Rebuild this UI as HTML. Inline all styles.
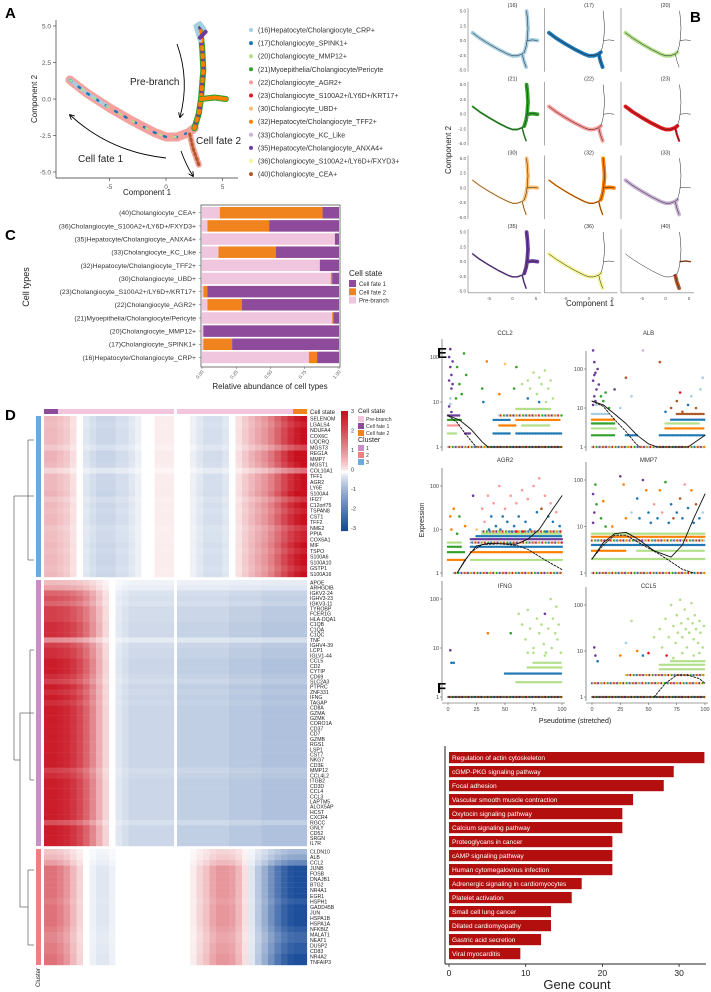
<!DOCTYPE html>
<html><head><meta charset="utf-8"><style>
html,body{margin:0;padding:0;background:#fff;}
svg{display:block;font-family:"Liberation Sans",Arial,sans-serif;}
</style></head><body>
<svg id="fig" width="711" height="992" viewBox="0 0 711 992" xmlns="http://www.w3.org/2000/svg"></svg>
<script>
// ---------- DATA ----------
const clusterNames=["(16)Hepatocyte/Cholangiocyte_CRP+","(17)Cholangiocyte_SPINK1+","(20)Cholangiocyte_MMP12+","(21)Myoepithelia/Cholangiocyte/Pericyte","(22)Cholangiocyte_AGR2+","(23)Cholangiocyte_S100A2+/LY6D+/KRT17+","(30)Cholangiocyte_UBD+","(32)Hepatocyte/Cholangiocyte_TFF2+","(33)Cholangiocyte_KC_Like","(35)Hepatocyte/Cholangiocyte_ANXA4+","(36)Cholangiocyte_S100A2+/LY6D+/FXYD3+","(40)Cholangiocyte_CEA+"];
const clusterIds=["(16)","(17)","(20)","(21)","(22)","(23)","(30)","(32)","(33)","(35)","(36)","(40)"];
const palette=["#a6cee3","#1f78b4","#b2df8a","#33a02c","#fb9a99","#e31a1c","#fdbf6f","#ff7f00","#cab2d6","#6a3d9a","#f5f59a","#b15928"];
const segLeft=[[-8.5,1.3],[-7,0.4],[-5,-0.6],[-3,-1.5],[-1,-2.3],[0,-2.6],[1,-2.6],[2,-2.3],[2.5,-2]];
const segUp=[[2.5,-2],[2.9,-1],[3.1,0],[3.3,2],[3.2,3.5],[3,5]];
const segRight=[[3.1,0],[4.3,0.1],[5.3,0]];
const segDown=[[2.1,-2.4],[2.4,-3.4],[2.9,-4.5]];
const facetSegs=[[1,1,1,1],[1,0,0,1],[1,0,0,0],[0.4,1,1,0.3],[1,0,0,1],[1,0,0,0.5],[0.3,1,1,0.3],[0.3,1,1,0.3],[1,0,0,1],[0.3,1,1,0.3],[1,0,0,1],[0,0,0.3,1]];
const cTypes=["(40)Cholangiocyte_CEA+","(36)Cholangiocyte_S100A2+/LY6D+/FXYD3+","(35)Hepatocyte/Cholangiocyte_ANXA4+","(33)Cholangiocyte_KC_Like","(32)Hepatocyte/Cholangiocyte_TFF2+","(30)Cholangiocyte_UBD+","(23)Cholangiocyte_S100A2+/LY6D+/KRT17+","(22)Cholangiocyte_AGR2+","(21)Myoepithelia/Cholangiocyte/Pericyte","(20)Cholangiocyte_MMP12+","(17)Cholangiocyte_SPINK1+","(16)Hepatocyte/Cholangiocyte_CRP+"];
const cPre=[0.13,0.04,0.97,0.12,0.86,0.94,0.01,0.04,0.95,0.01,0.01,0.78];
const cFate2=[0.75,0.45,0.0,0.42,0.0,0.01,0.03,0.25,0.01,0.0,0.21,0.06];
const cFate1=[0.12,0.51,0.03,0.46,0.14,0.05,0.96,0.71,0.04,0.99,0.78,0.16];
const cTicks=["0.00","0.25","0.50","0.75","1.00"];
const genes3=["SELENOM","LGALS4","NDUFA4","COX6C","UQCRQ","MGST3","REG1A","MMP7","MGST1","COL10A1","TFF1","AGR2","LY6E","S100A4","IFI27","C12orf75","TSPAN8","CST1","TFF2","NME2","PPIA","COX6A1","MIF","TSPO","S100A6","S100A10","GSTP1","S100A16"];
const genes1=["APOE","ARHGDIB","IGKV2-24","IGHV3-23","IGKV3-11","TYROBP","FCER1G","HLA-DQA1","C1QB","C1QA","C1QC","TNF","IGHV4-39","LCP1","IGLV1-44","CCL5","CD2","CYTIP","CD69","SLC2A3","PTPRC","ZNF331","IFNG","TAGAP","CD8A","GZMA","GZMK","CORO1A","CD37","CD7","GZMB","RGS1","LSP1","CST7","NKG7","CD3E","MMP12","CCL4L2","ITGB2","CD3D","CCL4","CCL3","LAPTM5","ALOX5AP","HCST","CXCR4","RGCC","GNLY","CD52","SRGN","IL7R"];
const genes2=["CLDN10","ALB","CCL2","JUNB","FOSB","DNAJB1","BTG2","NR4A1","EGR1","HSPH1","GADD45B","JUN","HSPA1B","HSPA1A","NFKBIZ","MALAT1","NEAT1","DUSP2","CD83","NR4A2","TNFAIP3"];
const prof3L=[0.6,0.6,0.5,0.4,0.2,0,-0.2,-0.3,-0.4,-0.4,-0.4,-0.3,-0.3,-0.2,-0.1,0,0,0.1,0.1,0.1];
const prof3R=[0,0,-0.1,-0.2,-0.3,-0.3,-0.3,-0.2,0,0.2,0.4,0.6,0.8,1,1.3,1.7,2.1,2.5,2.8,3];
const prof1L=[2.8,2.8,2.7,2.6,2.4,2.1,1.7,1.2,0.7,0.3,0,-0.2,-0.3,-0.4,-0.4,-0.4,-0.4,-0.4,-0.4,-0.4];
const prof1R=[-0.5,-0.5,-0.5,-0.5,-0.5,-0.5,-0.5,-0.5,-0.6,-0.6,-0.6,-0.6,-0.6,-0.7,-0.7,-0.7,-0.7,-0.7,-0.7,-0.7];
const prof2L=[1.5,1.5,1.3,1,0.6,0.3,0,-0.1,-0.2,-0.2,-0.1,0,0,0,0,0,0,0,0,0];
const prof2R=[0,0,0.1,0.3,0.5,0.8,1,1,0.9,0.6,0.2,-0.2,-0.6,-1,-1.5,-2,-2.4,-2.7,-2.8,-2.8];
const scale3=[1,0.9,1,1,1,0.7,1.1,1.1,1,0.5,1,1,1,1.1,0.8,1,0.9,1,1,0.8,0.9,0.9,1,0.9,1,1,0.9,1];
const scale1=[0.2,0.3,0.6,0.7,0.6,0.8,0.8,0.8,0.9,0.9,0.9,0.4,0.8,0.9,0.9,1,1,1,0.9,0.8,1,0.9,1,0.9,1,1,1,1,1,1,1,1,1,1,1,1,0.8,0.9,1,1,1,1,1,1,1,1,0.7,1,1,1,1];
const scale2=[0.3,0.4,0.6,1,1,1,1,1,1,0.9,1,1,1,1,0.9,0.8,0.8,0.9,0.9,1,1];
const cbTicks=["3","2","1","0","-1","-2","-3"];
const eGenes=["CCL2","ALB","AGR2","MMP7","IFNG","CCL5"];
const eTicksX=["0","25","50","75","100"];
const eBands=[
 [[1,0,100,-1],[2,0,8,2],[2,15,20,9],[2,40,55,1],[2,60,100,1],[3,0,10,4],[3,45,60,7],[3,65,90,2],[4,0,12,3],[4,40,55,1],[4,60,98,7],[5,0,10,9],[5,45,100,-1],[7,60,90,2]],
 [[1,0,100,-1],[2,0,20,3],[2,30,40,1],[2,60,100,1],[3,0,22,2],[3,65,100,7],[4,0,20,3],[4,65,95,2],[5,0,20,7],[5,70,100,1],[7,0,15,0],[7,75,100,11]],
 [[1,5,100,-1],[2,0,15,7],[2,20,100,2],[3,0,15,3],[3,20,100,7],[4,0,12,3],[4,20,100,1],[5,0,12,2],[5,20,100,-1],[6,20,100,9],[7,25,100,1],[8,30,100,2],[9,30,100,-1]],
 [[1,0,100,-1],[2,0,100,2],[3,0,30,7],[3,40,100,2],[4,0,100,1],[5,0,100,-1],[6,0,100,7],[7,0,100,2]],
 [[1,0,100,-1],[2,60,100,2],[3,50,100,1],[4,70,100,2],[5,75,100,2]],
 [[1,0,100,-1],[2,0,100,-1],[3,30,100,-1],[4,60,100,2],[5,60,100,2],[6,70,100,2]]
];
const ePts=[
 [[1,100,9],[2,150,9],[2,60,9],[3,40,9],[1,30,9],[3,20,9],[2,12,0],[4,80,9],[1,8,9],[3,6,9],[4,25,9],[2,9,0],[8,60,3],[10,25,3],[12,15,3],[14,120,3],[16,40,3],[7,12,3],[30,20,3],[34,80,7],[31,10,1],[45,15,7],[50,70,6],[58,20,3],[60,60,3],[65,25,2],[70,30,2],[72,20,2],[75,45,2],[78,15,2],[80,35,2],[82,25,2],[85,50,2],[88,20,2],[90,30,2],[92,12,2],[70,12,1],[80,10,1],[86,10,2]],
 [[1,300,9],[2,150,9],[3,80,9],[1,50,9],[4,30,9],[2,20,9],[5,100,9],[3,15,9],[6,40,9],[1,12,9],[2,70,9],[4,12,0],[8,20,3],[10,15,3],[12,25,3],[15,10,3],[20,30,9],[25,10,0],[30,60,11],[35,20,0],[45,300,8],[60,150,11],[65,8,1],[70,10,11],[75,15,11],[78,25,5],[80,8,11],[85,12,1],[88,20,0],[92,10,11],[96,30,0],[98,60,0]],
 [[2,20,7],[3,10,7],[5,30,7],[8,8,3],[10,20,3],[15,12,7],[22,60,9],[25,10,6],[30,30,4],[32,15,4],[35,60,4],[38,20,1],[40,40,4],[42,12,1],[45,100,4],[48,20,1],[50,30,4],[52,15,1],[55,60,4],[58,12,1],[60,40,4],[62,20,1],[65,80,4],[68,15,1],[70,50,4],[72,10,1],[75,100,4],[78,25,1],[80,150,4],[82,30,11],[85,60,4],[88,20,1],[90,40,4],[92,15,1],[95,25,4],[98,12,1],[60,9,5],[66,9,5],[36,10,1],[46,10,1],[56,9,1],[86,9,1]],
 [[1,50,9],[2,20,9],[3,80,3],[1,12,9],[4,30,3],[8,15,3],[10,35,7],[12,10,3],[18,10,7],[25,120,9],[28,80,7],[30,15,7],[35,20,0],[40,40,1],[42,15,1],[45,100,9],[48,60,7],[50,20,1],[52,12,1],[55,30,4],[58,15,1],[60,60,7],[62,20,4],[65,90,3],[68,12,1],[70,30,1],[72,15,11],[75,20,1],[78,40,11],[80,15,1],[82,80,4],[85,25,1],[88,60,7],[90,12,1],[92,30,11],[95,15,1],[98,20,0]],
 [[2,9,9],[3,5,1],[5,5,1],[35,20,7],[55,20,3],[62,50,2],[65,30,2],[68,15,2],[70,60,2],[72,25,2],[75,10,2],[78,40,2],[80,20,2],[82,30,2],[84,12,2],[85,50,9],[86,8,2],[88,25,2],[90,100,2],[91,10,2],[92,40,2],[94,20,2],[95,70,2],[96,15,2],[97,30,2],[99,8,2],[75,8,2],[70,8,2],[85,7,2]],
 [[2,12,9],[3,8,9],[5,6,1],[25,8,7],[30,15,0],[35,45,2],[40,10,7],[45,8,1],[50,9,5],[55,20,2],[60,30,2],[62,12,2],[65,50,2],[68,20,2],[70,100,2],[72,35,2],[74,15,2],[75,60,2],[76,25,2],[78,130,2],[79,40,2],[80,20,2],[82,80,2],[83,30,2],[84,12,2],[85,50,2],[86,25,2],[88,110,2],[89,40,2],[90,18,2],[91,60,2],[92,30,2],[94,15,2],[95,45,2],[96,25,2],[98,12,2],[99,35,2],[66,8,5],[72,7,2],[80,9,2],[90,8,2],[95,9,2]]
];
const eSolid=[
 [[0,5],[10,4],[20,2.5],[30,1.3],[35,1],[100,1]],
 [[0,15],[10,12],[20,7],[30,4],[40,2],[50,1.2],[58,1],[85,1],[100,2]],
 [[8,1],[15,2],[25,4.2],[35,4.8],[50,4.7],[60,4.6],[70,6],[80,10],[90,25],[100,60]],
 [[0,2],[10,4.5],[20,7],[30,7.5],[40,5.5],[55,3],[70,2.2],[80,4],[90,15],[100,50]],
 [[0,1],[100,1]],
 [[0,1],[100,1]]
];
const eDash=[
 [[0,5],[8,3.5],[15,2],[22,1.2],[25,1]],
 [[0,15],[10,11],[20,5],[30,2.5],[38,1.3],[42,1]],
 [[8,1],[20,3],[30,4.5],[45,4.7],[60,4.3],[70,3.5],[85,2],[100,1.2]],
 [[0,2],[10,4],[20,6.5],[30,6.5],[45,4],[60,2.5],[80,1.2],[90,1]],
 [[0,1],[100,1]],
 [[55,1],[65,2],[75,3],[85,3],[95,2.5],[100,2]]
];
const fTerms=["Regulation of actin cytoskeleton","cGMP-PKG signaling pathway","Focal adhesion","Vascular smooth muscle contraction","Oxytocin signaling pathway","Calcium signaling pathway","Proteoglycans in cancer","cAMP signaling pathway","Human cytomegalovirus infection","Adrenergic signaling in cardiomyocytes","Platelet activation","Small cell lung cancer","Dilated cardiomyopathy","Gastric acid secretion","Viral myocarditis"];
const fCounts=[33.3,29.3,28,24,22.6,22.6,21.3,21.3,21.3,17.3,16,13.3,13.3,12,9.3];
const fTicks=[0,10,20,30];

// ---------- HELPERS ----------
const NS="http://www.w3.org/2000/svg";
const fig=document.getElementById('fig');
function mk(tag,parent){const e=document.createElementNS(NS,tag);(parent||fig).appendChild(e);return e;}
function txt(parent,x,y,s,size,anchor,fill,weight){const t=mk('text',parent);t.setAttribute('x',x);t.setAttribute('y',y);t.setAttribute('font-size',size);t.setAttribute('text-anchor',anchor||'start');t.setAttribute('fill',fill||'#333');if(weight)t.setAttribute('font-weight',weight);t.textContent=s;return t;}
function line(parent,x1,y1,x2,y2,col,w){const l=mk('line',parent);l.setAttribute('x1',x1);l.setAttribute('y1',y1);l.setAttribute('x2',x2);l.setAttribute('y2',y2);l.setAttribute('stroke',col||'#333');l.setAttribute('stroke-width',w||0.6);return l;}
function poly(parent,pts,sx,sy,col,w,dash){const p=mk('polyline',parent);p.setAttribute('points',pts.map(q=>sx(q[0]).toFixed(1)+','+sy(q[1]).toFixed(1)).join(' '));p.setAttribute('fill','none');p.setAttribute('stroke',col);p.setAttribute('stroke-width',w);p.setAttribute('stroke-linecap','round');p.setAttribute('stroke-linejoin','round');if(dash)p.setAttribute('stroke-dasharray',dash);return p;}
function rect(parent,x,y,w,h,fill){const r=mk('rect',parent);r.setAttribute('x',x);r.setAttribute('y',y);r.setAttribute('width',Math.max(0,w));r.setAttribute('height',h);r.setAttribute('fill',fill);return r;}

[["A",5,18],["B",690,22],["C",5,240],["D",5,420],["E",437,358],["F",437,693]].forEach(l=>{const t=txt(fig,l[1],l[2],l[0],15,'start','#000','bold');

});

// ---------- A ----------
const gA=mk('g');


const ax=v=>166+v*11.3, ay=v=>99-v*14.6;
poly(gA,segLeft,ax,ay,'#f4a29d',9);
poly(gA,segLeft.slice(0,3),ax,ay,'#a6cee3',4,'3 4');
poly(gA,segLeft,ax,ay,'#1f78b4',2.5,'2 9');
poly(gA,segLeft,ax,ay,'#b2df8a',2,'2 13');
poly(gA,segUp,ax,ay,'#33a02c',6);
poly(gA,segUp,ax,ay,'#6a3d9a',4,'3 4');
poly(gA,segUp,ax,ay,'#ff7f00',4,'2 6');
poly(gA,[[3,4],[2.6,5],[3,5.2],[3.4,4.8]],ax,ay,'#a6cee3',4);
poly(gA,[[3,4.2],[3.5,4.6]],ax,ay,'#6a3d9a',4);
poly(gA,segRight,ax,ay,'#33a02c',6);
poly(gA,segRight,ax,ay,'#ff7f00',4,'3 3');
poly(gA,segDown,ax,ay,'#f4a29d',6);
poly(gA,segDown,ax,ay,'#b15928',3,'2 3');
line(gA,56,20,56,178,'#333',0.7);line(gA,56,178,238,178,'#333',0.7);
[5,2.5,0,-2.5,-5].forEach(v=>{line(gA,53,ay(v),56,ay(v));txt(gA,51,ay(v)+2.5,v.toFixed(1),6.5,'end','#555');});
[-5,0,5].forEach(v=>{line(gA,ax(v),178,ax(v),181);txt(gA,ax(v),189,String(v),6.5,'middle','#555');});
txt(gA,147,195,'Component 1',8,'middle','#222');
const aty=txt(gA,0,0,'Component 2',8,'middle','#222');aty.setAttribute('transform','translate(37,99) rotate(-90)');
txt(gA,130,85,'Pre-branch',10,'start','#222');
txt(gA,196,144,'Cell fate 2',10,'start','#222');
txt(gA,78,162,'Cell fate 1',10,'start','#222');
const defs=mk('defs');const mar=mk('marker',defs);mar.setAttribute('id','ah');mar.setAttribute('markerWidth','6');mar.setAttribute('markerHeight','6');mar.setAttribute('refX','5');mar.setAttribute('refY','3');mar.setAttribute('orient','auto');
const mp=mk('path',mar);mp.setAttribute('d','M0,0 L6,3 L0,6');mp.setAttribute('fill','none');mp.setAttribute('stroke','#000');
[["M177,44 Q190,80 180,117"],["M181,151 Q186,165 193,176"],["M166,158 Q110,152 70,115"]].forEach(d=>{const p=mk('path',gA);p.setAttribute('d',d[0]);p.setAttribute('fill','none');p.setAttribute('stroke','#000');p.setAttribute('stroke-width','0.9');p.setAttribute('marker-end','url(#ah)');});
const legA=mk('g');


clusterNames.forEach((n,i)=>{const y=30+i*13.1;const c=mk('circle',legA);c.setAttribute('cx',251);c.setAttribute('cy',y);c.setAttribute('r',2);c.setAttribute('fill',palette[i]);


const t=txt(legA,258,y+2.5,n,7,'start','#333');

});

// ---------- B ----------
const gB=mk('g');


const segsAll=[segLeft,segUp,segRight,segDown];
clusterIds.forEach((id,k)=>{const c=k%3,r=Math.floor(k/3);const bx=v=>489+c*76.5+(v+5)*4.7;const by=v=>11+r*73.7+(5-v)*5.9;
 const g=mk('g',gB);
 
 
 segsAll.forEach((s,j)=>{if(facetSegs[k][j]>0)poly(g,s,bx,by,palette[k],3.2*facetSegs[k][j]+0.6);});
 segsAll.forEach(s=>poly(g,s,bx,by,'#222',0.5));
 txt(g,bx(0),by(5)-4,id,5.5,'middle','#333');
 const lx=468+c*76.5;line(g,lx,by(5.5),lx,by(-5.3),'#555',0.5);
 if(c==0)[5,2.5,0,-2.5,-5].forEach(v=>txt(g,lx-2,by(v)+1.5,v.toFixed(1),4.5,'end','#555'));
 if(r==3){line(g,lx,by(-5.3),lx+73,by(-5.3),'#555',0.5);[-5,0,5].forEach(v=>txt(g,bx(v),by(-5.3)+7,String(v),4.5,'middle','#555'));}
});
txt(gB,590,306,'Component 1',8,'middle','#222');
const bty=txt(gB,0,0,'Component 2',8,'middle','#222');bty.setAttribute('transform','translate(451,150) rotate(-90)');

// ---------- C ----------
const gC=mk('g');


const cx=f=>202+f*137;
rect(gC,201,205,139,162,'#fff').setAttribute('stroke','#777');
cTypes.forEach((n,i)=>{const y=207+i*13.15,h=11.5;
 const b1=rect(gC,cx(0),y,cPre[i]*137,h,'#f0c6df');
 
 
 const b2=rect(gC,cx(cPre[i]),y,cFate2[i]*137,h,'#f0831e');
 
 
 const b3=rect(gC,cx(cPre[i]+cFate2[i]),y,cFate1[i]*137,h,'#8e4a9b');
 
 
 line(gC,199,y+h/2,201,y+h/2,'#555',0.5);
 const t=txt(gC,196,y+h/2+2.4,n,6.8,'end','#333');
 
 });
cTicks.forEach((s,i)=>{const x=cx(i*0.25);line(gC,x,367,x,369,'#555',0.5);const t=txt(gC,0,0,s,4.8,'end','#555');t.setAttribute('transform','translate('+(x+2)+',372) rotate(-50)');});
const cxt=txt(gC,270,389,'Relative abundance of cell types',8,'middle','#222');


const cyt=txt(gC,0,0,'Cell types',9,'middle','#222');cyt.setAttribute('transform','translate(29,287) rotate(-90)');
txt(gC,349,276,'Cell state',8,'start','#222');
[['Cell fate 1','#8e4a9b'],['Cell fate 2','#f0831e'],['Pre-branch','#f0c6df']].forEach((l,i)=>{rect(gC,349,280+i*8.3,7,7,l[1]);txt(gC,359,286+i*8.3,l[0],6,'start','#333');});

// ---------- D ----------
const gD=mk('g');


function hcol(v){v=Math.max(-3,Math.min(3,v));let t=Math.pow(Math.abs(v)/3,0.75);const c=v>=0?[200,16,30]:[18,70,150];return 'rgb('+[0,1,2].map(i=>Math.round(255+(c[i]-255)*t)).join(',')+')';}
rect(gD,44,409,130,5,'#f2c4dd');rect(gD,44,409,14,5,'#8e4a9b');rect(gD,177,409,130,5,'#f2c4dd');rect(gD,293,409,14,5,'#f0831e');
txt(gD,310,414,'Cell state',6,'start','#222');
const blocks=[[genes3,prof3L,prof3R,scale3,416,577,'#6fa8dc'],[genes1,prof1L,prof1R,scale1,580,846,'#c98fc4'],[genes2,prof2L,prof2R,scale2,849,965,'#f08080']];
blocks.forEach((b,bi)=>{const n=b[0].length,h=(b[5]-b[4])/n;
 b[0].forEach((g,i)=>{const y=b[4]+i*h;
  for(let j=0;j<20;j++){rect(gD,44+j*6.5,y,6.6,h+0.2,hcol(b[1][j]*b[3][i]));rect(gD,177+j*6.5,y,6.6,h+0.2,hcol(b[2][j]*b[3][i]));}
  const t=txt(gD,310,y+h/2+1.8,g,5.2,'start','#222');
  
  });
 rect(gD,36,b[4],5,b[5]-b[4],b[6]);
});
[[34,496,28,496],[28,440,28,560],[28,440,34,440],[28,560,34,560],[28,496,14,496],[14,496,14,760],[14,760,20,760],[20,713,20,907],[20,713,34,713],[20,907,28,907],[28,870,28,945],[28,870,34,870],[28,945,34,945],[30,650,34,650],[30,780,34,780],[30,650,30,780]].forEach(l=>line(gD,l[0],l[1],l[2],l[3],'#444',0.6));
const ct=txt(gD,0,0,'Cluster',6,'end','#222');ct.setAttribute('transform','translate(40,968) rotate(-90)');
for(let i=0;i<60;i++){rect(gD,341,411+i*2,7,2.1,hcol(3-i*0.1));}
cbTicks.forEach((s,i)=>txt(gD,351,413+i*19.5,s,5.5,'start','#333'));
txt(gD,358,413,'Cell state',6.5,'start','#222');
[['Pre-branch','#f2c4dd'],['Cell fate 1','#8e4a9b'],['Cell fate 2','#f0831e']].forEach((l,i)=>{rect(gD,358,416+i*7,6,6,l[1]);txt(gD,366,421+i*7,l[0],5.2,'start','#333');});
txt(gD,358,442,'Cluster',7,'start','#222');
[['1','#c98fc4'],['2','#f08080'],['3','#6fa8dc']].forEach((l,i)=>{rect(gD,358,445+i*7,6,6,l[1]);txt(gD,366,450+i*7,l[0],5.2,'start','#333');});
line(gD,175.5,409,175.5,965,'#fff',2);

// ---------- E ----------
const gE=mk('g');


const ePanels=[[448,562,447,357,335],[592,705,447,369,335],[448,562,573,486,462],[592,705,573,480,462],[448,562,697,599,588],[592,705,697,605,588]];
eGenes.forEach((gname,k)=>{const P=ePanels[k];const ex=t=>P[0]+t*(P[1]-P[0])/100;const ey=v=>P[2]-Math.log10(v)*(P[2]-P[3])/2;
 const g=mk('g',gE);
 
 
 txt(g,(P[0]+P[1])/2,P[4],gname,6,'middle','#333');
 line(g,P[0]-6,P[3]-18,P[0]-6,P[2]+4,'#444',0.6);
 [[100,'100'],[10,'10'],[1,'1']].forEach(q=>{line(g,P[0]-8,ey(q[0]),P[0]-6,ey(q[0]),'#444',0.5);txt(g,P[0]-9,ey(q[0])+2,q[1],5.5,'end','#444');});
 eBands[k].forEach((b,bi)=>{for(let t=b[1],m=0;t<=b[2];t+=1.4,m++){const c=mk('circle',g);c.setAttribute('cx',ex(t).toFixed(1));c.setAttribute('cy',ey(b[0]).toFixed(1));c.setAttribute('r',1.2);c.setAttribute('fill',palette[b[3]<0?(m*5+bi)%12:b[3]]);}});
 ePts[k].forEach(p=>{const c=mk('circle',g);c.setAttribute('cx',ex(p[0]).toFixed(1));c.setAttribute('cy',ey(p[1]).toFixed(1));c.setAttribute('r',1.3);c.setAttribute('fill',palette[p[2]]);
  
  });
 const s=poly(g,eSolid[k],ex,ey,'#111',0.9);
 
 
 const d=poly(g,eDash[k],ex,ey,'#111',0.9,'2 1.5');
 
 
 if(k>=4){line(g,P[0]-6,703,P[1]+3,703,'#444',0.6);eTicksX.forEach((s2,i)=>{const x=ex(i*25);line(g,x,703,x,705,'#444',0.5);txt(g,x,711,s2,5.5,'middle','#444');});}
});
txt(gE,575,723,'Pseudotime (stretched)',7,'middle','#222');
const eyt=txt(gE,0,0,'Expression',7,'middle','#222');eyt.setAttribute('transform','translate(424,520) rotate(-90)');

// ---------- F ----------
const gF=mk('g');


const fx=v=>449+v*7.67;
fTerms.forEach((t,i)=>{const y=752+i*14;const b=rect(gF,fx(0),y,fx(fCounts[i])-fx(0),11.2,'#b30f0f');
 
 
 txt(gF,452,y+8,t,6.6,'start','#fff');});
line(gF,445,746,445,964,'#222',1);line(gF,445,964,706,964,'#222',1);
fTicks.forEach(v=>{line(gF,fx(v),964,fx(v),967,'#222',0.8);txt(gF,fx(v),976,String(v),8.5,'middle','#222');});
const fxt=txt(gF,577,989,'Gene count',13,'middle','#222');


</script>
</body></html>
